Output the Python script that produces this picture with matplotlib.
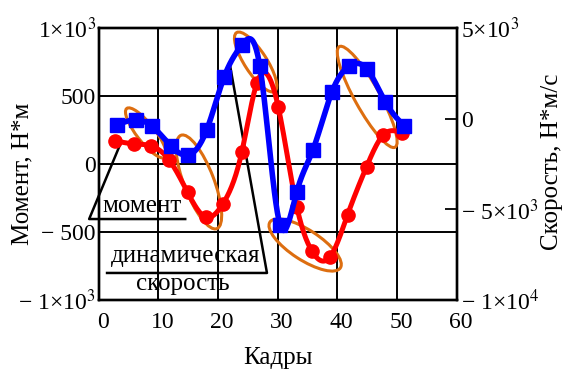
import numpy as np
import matplotlib
matplotlib.use('Agg')
import matplotlib.pyplot as plt
from matplotlib.patches import Ellipse
from matplotlib.transforms import ScaledTranslation

# Data
frames_moment = [2.7, 5.9, 8.8, 11.8, 14.9, 18.0, 20.8, 24.0, 26.5, 30.1,
                 33.2, 35.7, 38.8, 41.7, 44.9, 47.7, 50.9]
moment = [173, 149, 134, 31, -207, -391, -293, 92, 596, 419,
          -313, -637, -681, -374, -18, 215, 228]
frames_speed = [3.0, 6.2, 8.9, 12.1, 15.0, 18.1, 21.0, 24.0, 27.0, 30.4,
                33.2, 35.9, 39.1, 42.0, 45.0, 48.0, 51.2]
speed = [-338, -60, -393, -1497, -1994, -614, 2295, 4078, 2919, -5858,
         -4020, -1718, 1500, 2919, 2737, 948, -393]

x_ticks = [0, 10, 20, 30, 40, 50, 60]
left_ticks = [-1000, -500, 0, 500, 1000]
left_labels = ['\u2212 1\u00d710$^{3}$', '\u2212 500', '0', '500', '1\u00d710$^{3}$']
right_ticks = [-10000, -5000, 0, 5000]
right_labels = ['\u2212 1\u00d710$^{4}$', '\u2212 5\u00d710$^{3}$', '0', '5\u00d710$^{3}$']

plt.rcParams['font.family'] = ['Liberation Serif', 'DejaVu Serif']
plt.rcParams['mathtext.fontset'] = 'stix'
FS_TICK = 17
FS = 18


def smooth(x, y, n=400):
    '''Natural cubic spline through the points (line rendering only)'''
    x = np.asarray(x, float)
    y = np.asarray(y, float)
    k = len(x)
    h = np.diff(x)
    A = np.zeros((k, k))
    b = np.zeros(k)
    A[0, 0] = A[-1, -1] = 1
    for i in range(1, k - 1):
        A[i, i - 1] = h[i - 1]
        A[i, i] = 2 * (h[i - 1] + h[i])
        A[i, i + 1] = h[i]
        b[i] = 6 * ((y[i + 1] - y[i]) / h[i] - (y[i] - y[i - 1]) / h[i - 1])
    M = np.linalg.solve(A, b)
    xs = np.linspace(x[0], x[-1], n)
    j = np.clip(np.searchsorted(x, xs) - 1, 0, k - 2)
    t0 = x[j + 1] - xs
    t1 = xs - x[j]
    hj = h[j]
    ys = (M[j] * t0**3 + M[j + 1] * t1**3) / (6 * hj) \
        + (y[j] / hj - M[j] * hj / 6) * t0 + (y[j + 1] / hj - M[j + 1] * hj / 6) * t1
    return xs, ys


fig = plt.figure(figsize=(5.64, 3.71), dpi=100)
ax1 = fig.add_axes([98.7 / 564, 71 / 371, 358 / 564, 271.7 / 371])
ax2 = ax1.twinx()

# Moment (left axis)
xs, ys = smooth(frames_moment, moment)
ax1.plot(xs, ys, color='#FF0000', lw=3.6, zorder=4)
ax1.plot(frames_moment, moment, 'o', color='#FF0000', ms=9.5, zorder=5)

# Speed (right axis)
xs, ys = smooth(frames_speed, speed)
ax2.plot(xs, ys, color='#0000FF', lw=4.0, zorder=4)
ax2.plot(frames_speed, speed, 's', color='#0000FF', ms=9.5, zorder=5)

ax1.set_xlim(0, 60)
ax1.set_ylim(-1000, 1000)
ax2.set_ylim(-10000, 5000)

ax1.set_xticks(x_ticks)
ax1.set_xticklabels([str(v) for v in x_ticks], fontsize=FS_TICK)
ax1.set_yticks(left_ticks)
ax1.set_yticklabels(left_labels, fontsize=FS_TICK)
ax2.set_yticks(right_ticks)
ax2.set_yticklabels(right_labels, fontsize=FS_TICK)

ax1.tick_params(axis='x', length=0, pad=9)
ax1.tick_params(axis='y', length=0, pad=2)
ax2.tick_params(axis='y', direction='in', length=8.5, width=1.3, pad=3)
for lab in ax1.get_xticklabels():
    lab.set_transform(lab.get_transform() +
                      ScaledTranslation(4 / 100, 0, fig.dpi_scale_trans))

ax1.grid(True, color='black', lw=1.4)
ax1.set_axisbelow(True)
for ax in (ax1, ax2):
    for s in ax.spines.values():
        s.set_linewidth(1.7)
        s.set_color('black')

ax1.set_xlabel('Кадры', fontsize=FS, labelpad=10)
fig.text(22 / 564, 1 - 174 / 371, 'Момент, Н*м', rotation=90,
         ha='center', va='center', fontsize=FS)
fig.text(552 / 564, 1 - 162 / 371, 'Скорость, Н*м/с', rotation=90,
         ha='center', va='center', fontsize=FS)

# Orange ellipses (centre in data coords, size in inches)
ellipses = [((7.9, 230), 0.62, 0.18, -52), ((16.8, -131), 1.0, 0.30, -69),
            ((26.3, 752), 0.70, 0.22, -57), ((34.6, -595), 0.84, 0.30, -33),
            ((45.0, 495), 1.15, 0.25, -61)]
for (cx, cy), w, h, ang in ellipses:
    tr = fig.dpi_scale_trans + ScaledTranslation(cx, cy, ax1.transData)
    ax1.add_patch(Ellipse((0, 0), w, h, angle=ang, transform=tr, fill=False,
                          edgecolor='#DD6E10', lw=2.2, zorder=2, clip_on=False))

# Annotations
ax1.plot([3.7, -1.6, 14.5], [156, -404, -404], color='black', lw=1.8,
         clip_on=False, zorder=3)
ax1.plot([22.0, 28.2, 1.4], [730, -801, -801], color='black', lw=1.8,
         clip_on=False, zorder=3)
ax1.text(0.7, -352, 'момент', fontsize=FS, ha='left', va='baseline')
ax1.text(14.5, -720, 'динамическая', fontsize=FS, ha='center', va='baseline')
ax1.text(14.1, -926, 'скорость', fontsize=FS, ha='center', va='baseline')

fig.savefig('out.png', dpi=100)
